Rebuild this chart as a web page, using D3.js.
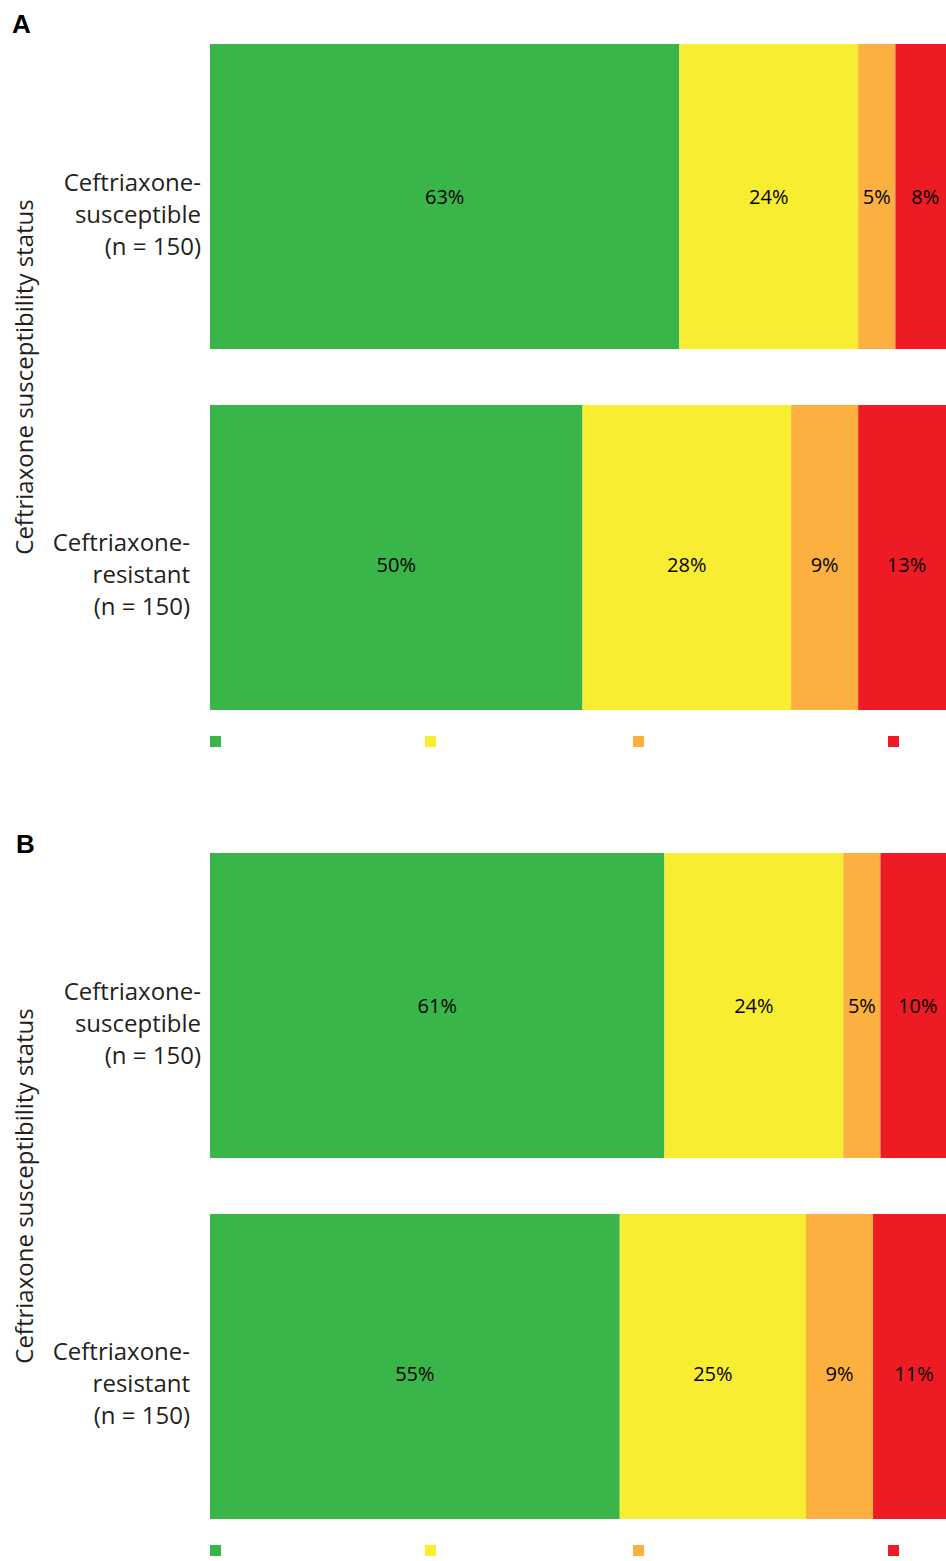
<!DOCTYPE html>
<html>
<head>
<meta charset="utf-8">
<script src="https://cdn.jsdelivr.net/npm/d3@7"></script>
<style>
  html, body { margin: 0; padding: 0; background: #fff; overflow: hidden; }
  svg { display: block; font-family: "Open Sans", "Noto Sans", sans-serif; }
</style>
</head>
<body>
<svg id="chart" width="946" height="1561"></svg>
<script>
// ---- data ----
const panels = ["A", "B"];
const categories = ["Ceftriaxone-susceptible", "Ceftriaxone-resistant"];
const categoryLines = [
  ["Ceftriaxone-", "susceptible", "(n = 150)"],
  ["Ceftriaxone-", "resistant", "(n = 150)"]
];
const seriesKeys = ["s1", "s2", "s3", "s4"];
const seriesColors = ["#39b54a", "#f9ed32", "#fbb040", "#ed1c24"];
// values per panel: [susceptible, resistant], each in series order
const panelA = [[63, 24, 5, 8], [50, 28, 9, 13]];
const panelB = [[61, 24, 5, 10], [55, 25, 9, 11]];
const panelValues = [panelA, panelB];
const yAxisTitle = "Ceftriaxone susceptibility status";

// ---- layout ----
const svg = d3.select("#chart");
const panelOffset = 809;
const x = d3.scaleLinear().domain([0, 100]).range([210, 955]);
const labelShift = [-9, -20];
const legendX = [210, 425, 633, 888];
const letterPos = [[12, 33], [16, 44]];

panels.forEach((p, pi) => {
  const g = svg.append("g").attr("transform", `translate(0,${pi * panelOffset})`);
  const y = d3.scaleBand().domain(categories).range([44, 710]).paddingInner(0.155).paddingOuter(0);

  // panel letter
  g.append("text")
    .attr("x", letterPos[pi][0])
    .attr("y", letterPos[pi][1])
    .attr("font-family", "Liberation Sans, Arial, sans-serif")
    .attr("font-weight", "bold")
    .attr("font-size", 26)
    .attr("fill", "#000")
    .text(p);

  // axis title
  g.append("text")
    .attr("transform", `translate(33,${(44 + 710) / 2}) rotate(-90)`)
    .attr("text-anchor", "middle")
    .attr("font-size", 24)
    .attr("fill", "#231f20")
    .text(yAxisTitle);

  const rows = panelValues[pi].map((vals, ci) => {
    const obj = { cat: categories[ci] };
    seriesKeys.forEach((k, si) => obj[k] = vals[si]);
    return obj;
  });
  const stacked = d3.stack().keys(seriesKeys)(rows);

  stacked.forEach((layer, si) => {
    const lg = g.append("g");
    lg.selectAll("rect").data(layer).join("rect")
      .attr("x", d => x(d[0]))
      .attr("y", d => y(d.data.cat))
      .attr("width", d => x(d[1]) - x(d[0]))
      .attr("height", y.bandwidth())
      .attr("fill", seriesColors[si]);
    lg.selectAll("text").data(layer).join("text")
      .attr("x", d => (x(d[0]) + x(d[1])) / 2)
      .attr("y", (d, i) => y(d.data.cat) + y.bandwidth() / 2 + 7 + i * 8)
      .attr("text-anchor", "middle")
      .attr("font-size", 20)
      .attr("fill", "#000")
      .text(d => `${d[1] - d[0]}%`);
  });

  // category labels
  categories.forEach((c, ci) => {
    const t = g.append("text")
      .attr("text-anchor", "end")
      .attr("font-size", 24)
      .attr("fill", "#231f20");
    const cy = y(c) + y.bandwidth() / 2 + 18;
    categoryLines[ci].forEach((line, li) => {
      t.append("tspan")
        .attr("x", x(0) + labelShift[ci])
        .attr("y", cy + (li - 1) * 32 + 8)
        .text(line);
    });
  });

  // legend swatches
  seriesKeys.forEach((k, si) => {
    g.append("rect")
      .attr("x", legendX[si])
      .attr("y", 736)
      .attr("width", 11)
      .attr("height", 11)
      .attr("fill", seriesColors[si]);
  });
});
</script>
</body>
</html>
